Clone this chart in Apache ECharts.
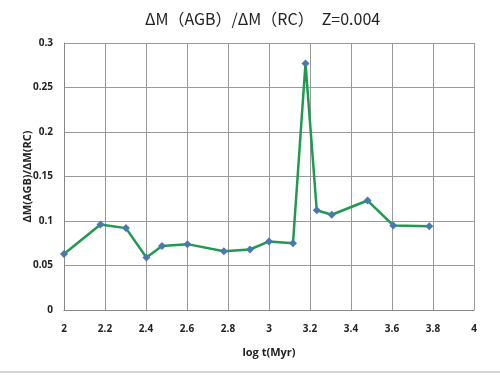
<!DOCTYPE html>
<html><head><meta charset="utf-8">
<script src="https://cdn.jsdelivr.net/npm/echarts@6/dist/echarts.min.js"></script>
<style>html,body{margin:0;padding:0;background:#fff}#c{width:500px;height:375px}</style>
</head><body><div id="c"></div>
<script>
const logT = [2.0, 2.178, 2.302, 2.402, 2.478, 2.602, 2.78, 2.907, 3.0, 3.117, 3.178, 3.233, 3.306, 3.481, 3.606, 3.782];
const ratio = [0.063, 0.096, 0.092, 0.059, 0.072, 0.074, 0.066, 0.068, 0.077, 0.075, 0.277, 0.112, 0.107, 0.123, 0.095, 0.094];
const titleText = 'ΔM（AGB）/ΔM（RC）　Z=0.004';
const xName = 'log t(Myr)';
const yName = 'ΔM(AGB)/ΔM(RC)';

const chart = echarts.init(document.getElementById('c'), null, {renderer: 'canvas'});
chart.setOption({
  animation: false,
  backgroundColor: '#fff',
  title: {text: titleText, left: 140, top: 6,
    textStyle: {fontFamily: 'Noto Sans CJK JP', fontWeight: 'normal', fontSize: 16, color: '#222'}},
  grid: {left: 64, right: 26, top: 43, bottom: 65},
  xAxis: {type: 'value', min: 2, max: 4, interval: 0.2,
    name: xName, nameLocation: 'middle', nameGap: 37,
    nameTextStyle: {fontFamily: 'Open Sans', fontWeight: 'bold', fontSize: 11, color: '#222'},
    axisLine: {lineStyle: {color: '#888'}}, axisTick: {show: false},
    axisLabel: {margin: 14, fontFamily: 'Open Sans', fontWeight: 'bold', fontSize: 10, color: '#222'},
    splitLine: {show: true, lineStyle: {color: '#999', width: 1}}},
  yAxis: {type: 'value', min: 0, max: 0.3, interval: 0.05,
    name: yName, nameLocation: 'middle', nameGap: 31, nameRotate: 90, nameMoveOverlap: false,
    nameTextStyle: {fontFamily: 'Open Sans', fontWeight: 'bold', fontSize: 11, color: '#222'},
    axisLine: {show: true, lineStyle: {color: '#888'}}, axisTick: {show: false},
    axisLabel: {margin: 11, fontFamily: 'Open Sans', fontWeight: 'bold', fontSize: 10, color: '#222'},
    splitLine: {show: true, lineStyle: {color: '#999', width: 1}}},
  graphic: [{type: 'line', shape: {x1: 0, y1: 372, x2: 500, y2: 372}, style: {stroke: '#aaa', lineWidth: 1}}],
  series: [{type: 'line', data: logT.map((x, i) => [x, ratio[i]]),
    lineStyle: {color: '#1f9a4e', width: 2.5},
    symbol: 'diamond', symbolSize: 8, itemStyle: {color: '#4a78b0'}}]
});
</script></body></html>
